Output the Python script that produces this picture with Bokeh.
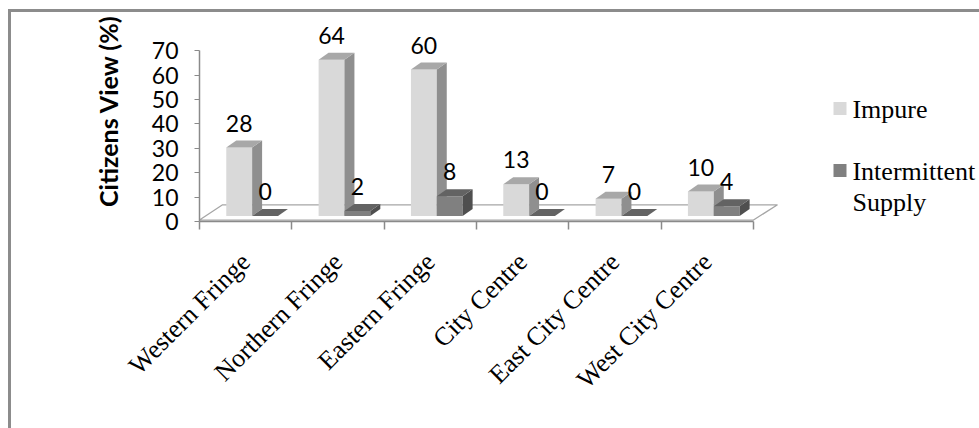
import math
from bokeh.plotting import figure
from bokeh.models import Range1d, FixedTicker, ColumnDataSource
from bokeh.core.properties import value
from bokeh.embed import file_html
from bokeh.resources import INLINE

# ---- data -------------------------------------------------------------
categories = ["Western Fringe", "Northern Fringe", "Eastern Fringe",
              "City Centre", "East City Centre", "West City Centre"]
impure = [28, 64, 60, 13, 7, 10]
intermittent = [0, 2, 8, 0, 0, 4]
series_names = ["Impure", "Intermittent\nSupply"]
y_ticks = [0, 10, 20, 30, 40, 50, 60, 70]

# ---- page / frame geometry -------------------------------------------
W, H = 979, 428
FRAME_L, FRAME_B = 199, 221          # pixel position of the axes corner
PX_X, PX_Y = 92.33, 2.44             # pixels per category / per percent
x_end = (W - FRAME_L) / PX_X
y_end = FRAME_B / PX_Y

# 3-D look: bar width, depth offset, lift of the bar feet above the axis
BW = 0.28
LEFT_OFF = -0.21
DX, DY = 0.108, 2.87
BASE = 2.3
LABEL_GAP = 10

FONT_SANS = "Lato"
FONT_SERIF = "Liberation Serif"
AXIS_GREY = "#8a8a8a"
BORDER_GREY = "#8c8c8c"

series_colors = [
    # front, side, top
    ("#d9d9d9", "#8f8f8f", "#a8a8a8"),
    ("#808080", "#4f4f4f", "#636363"),
]

p = figure(width=W, height=H, output_backend="svg", toolbar_location=None,
           x_range=Range1d(0, x_end), y_range=Range1d(0, y_end),
           min_border_left=FRAME_L, min_border_right=0,
           min_border_top=0, min_border_bottom=H - FRAME_B)
p.grid.visible = False
p.outline_line_color = None
p.background_fill_color = None
p.border_fill_color = None

# chart-area border: only its left and top edges fall inside the page
line = f"linear-gradient({BORDER_GREY}, {BORDER_GREY})"
p.styles = {
    "background": (f"{line} 8px 9px / 3px {H}px no-repeat, "
                   f"{line} 8px 9px / {W}px 3px no-repeat, #ffffff"),
}

# ---- floor --------------------------------------------------------------
n = len(categories)
floor_x = [0, 0.25, n + 0.26, n]
floor_y = [0.6, 6.85, 6.85, 0.6]
p.patch(floor_x, floor_y, fill_color="white", line_color="#a6a6a6", line_width=1.3)

# ---- bars ---------------------------------------------------------------
def bar_faces(values, offset):
    lefts = [i + 0.5 + offset for i in range(n)]
    rights = [l + BW for l in lefts]
    tops = [BASE + v for v in values]
    side_xs = [[r, r + DX, r + DX, r] for r in rights]
    side_ys = [[BASE, BASE + DY, t + DY, t] for t in tops]
    top_xs = [[l, r, r + DX, l + DX] for l, r in zip(lefts, rights)]
    top_ys = [[t, t, t + DY, t + DY] for t in tops]
    return lefts, rights, tops, side_xs, side_ys, top_xs, top_ys

label_x, label_y, label_t = [], [], []
for k, vals in enumerate([impure, intermittent]):
    front, side, top = series_colors[k]
    lefts, rights, tops, sxs, sys_, txs, tys = bar_faces(vals, LEFT_OFF + k * BW)
    p.quad(left=lefts, right=rights, bottom=BASE, top=tops,
           fill_color=front, line_color=None)
    p.patches(sxs, sys_, fill_color=side, line_color=None)
    p.patches(txs, tys, fill_color=top, line_color=None)
    for l, r, t, v in zip(lefts, rights, tops, vals):
        label_x.append((l + r) / 2)
        label_y.append(t + LABEL_GAP)
        label_t.append(str(v))

labels = ColumnDataSource(dict(x=label_x, y=label_y, text=label_t))
p.text("x", "y", text="text", source=labels, text_font=value(FONT_SANS),
       text_font_size="23px", text_color="black",
       text_align="center", text_baseline="middle")

# ---- legend -------------------------------------------------------------
leg_x = 6.937
leg_y = [46.3, 20.9]
p.rect([leg_x] * 2, leg_y, width=13, height=13, width_units="screen",
       height_units="screen", fill_color=[c[0] for c in series_colors], line_color=None)
p.text([leg_x + 0.135] * 2, [y + 5.7 for y in leg_y], text=series_names,
       text_font=value(FONT_SERIF), text_font_size="26px", text_color="black",
       text_align="left", text_baseline="top", text_line_height=1.1)

# ---- axes ---------------------------------------------------------------
ya = p.yaxis[0]
ya.ticker = FixedTicker(ticks=y_ticks)
ya.bounds = (y_ticks[0], y_ticks[-1])
ya.axis_line_color = AXIS_GREY
ya.axis_line_width = 1.5
ya.major_tick_line_color = AXIS_GREY
ya.major_tick_in = 0
ya.major_tick_out = 5
ya.minor_tick_line_color = None
ya.major_label_text_font = FONT_SANS
ya.major_label_text_font_size = "23px"
ya.major_label_text_color = "black"
ya.major_label_standoff = 16
ya.axis_label = "Citizens View (%)"
ya.axis_label_text_font = FONT_SANS
ya.axis_label_text_font_style = "bold"
ya.axis_label_text_font_size = "25px"
ya.axis_label_text_color = "black"
ya.axis_label_standoff = 26

centers = [i + 0.5 for i in range(n)]
xa = p.xaxis[0]
xa.ticker = FixedTicker(ticks=centers, minor_ticks=list(range(n + 1)))
xa.major_label_overrides = {c: name for c, name in zip(centers, categories)}
xa.bounds = (0, n)
xa.axis_line_color = AXIS_GREY
xa.axis_line_width = 1.5
xa.major_tick_line_color = None
xa.major_tick_in = 0
xa.major_tick_out = 0
xa.minor_tick_line_color = AXIS_GREY
xa.minor_tick_line_width = 1.5
xa.minor_tick_in = 0
xa.minor_tick_out = 8
xa.major_label_orientation = math.pi / 4
xa.major_label_text_font = FONT_SERIF
xa.major_label_text_font_size = "26px"
xa.major_label_text_color = "black"
xa.major_label_standoff = 28

open("out.html", "w").write(file_html(p, INLINE))
